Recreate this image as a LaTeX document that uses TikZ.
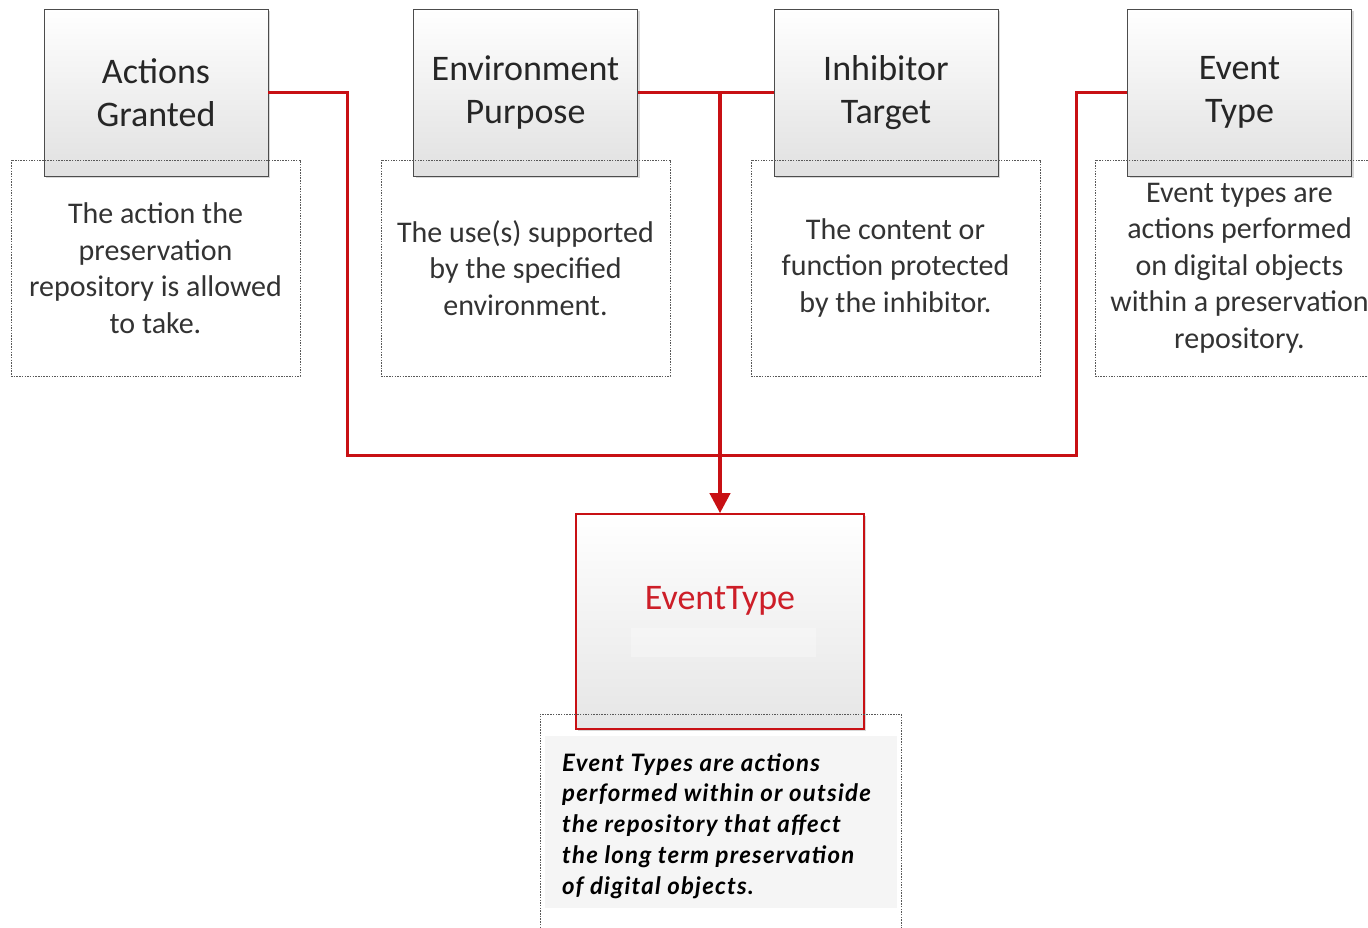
\documentclass[tikz,border=0pt]{standalone}
\usepackage{fontspec}
\setmainfont{Carlito}
\newfontfamily\latofont[LetterSpace=5]{Lato}
\usetikzlibrary{shadows,arrows.meta}
\definecolor{lnred}{RGB}{200,16,20}
\definecolor{txred}{RGB}{205,30,40}
\begin{document}
\begin{tikzpicture}[x=1pt,y=-1pt,
  titlebox/.style={draw=black!70, line width=0.9pt, top color=white, bottom color=black!12,
    minimum width=224pt, minimum height=167pt, inner sep=0pt, align=center,
    font=\fontsize{36}{43}\selectfont, text=black!85,
    drop shadow={shadow xshift=2pt, shadow yshift=-2pt, fill=black!30, opacity=0.5}},
  descbox/.style={draw=black!65, dash pattern=on 1.5pt off 1.2pt, line width=0.8pt,
    minimum width=289pt, minimum height=216pt, inner sep=0pt, align=center,
    font=\fontsize{30}{36.5}\selectfont, text=black!80},
  redline/.style={draw=lnred, line width=3pt},
  mainline/.style={draw=lnred, line width=4pt, -{Triangle[width=20pt,length=20pt]}},
]
\clip (0,0) rectangle (1368,928);
\fill[white] (0,0) rectangle (1368,928);

% title boxes
\node[titlebox] (ag) at (156,92.5) {Actions\\Granted};
\node[titlebox] (ep) at (525.5,92.5) {Environment\\Purpose};
\node[titlebox] (it) at (886,92.5) {Inhibitor\\Target};
\node[titlebox] (evt) at (1239.5,92.5) {Event\\Type};

% description boxes
\node[descbox] (d1) at (155.5,268) {The action the\\preservation\\repository is allowed\\to take.};
\node[descbox] (d2) at (525.5,268) {The use(s) supported\\by the specified\\environment.};
\node[descbox] (d3) at (895.5,268) {The content or\\function protected\\by the inhibitor.};
\node[descbox] (d4) at (1239.5,268) {Event types are\\actions performed\\on digital objects\\within a preservation\\repository.};

% target box
\node[draw=lnred, line width=1.6pt, top color=white, bottom color=black!10,
  minimum width=288pt, minimum height=215pt, inner sep=0pt,
  drop shadow={shadow xshift=2pt, shadow yshift=-2pt, fill=black!30, opacity=0.5}] (ET) at (720,621.5) {};
\fill[white, opacity=0.3] (631,628) rectangle (816,657);
\node[font=\fontsize{36}{40}\selectfont, text=txred] (etl) at (720,601) {EventType};

% bottom description
\fill[black!4] (545,736) rectangle (897,908);
\node[draw=black!65, dash pattern=on 1.5pt off 1.2pt, line width=0.8pt,
  minimum width=361pt, minimum height=240pt, inner sep=0pt] (d5) at (720.5,834) {};
\node[anchor=west, align=left, inner sep=0pt, text=black,
  font=\latofont\bfseries\itshape\fontsize{24}{30.75}\selectfont] (d5t) at (562,826)
  {Event Types are actions\\performed within or outside\\the repository that affect\\the long term preservation\\of digital objects.};

% connectors
\coordinate (j1) at (347,455);
\coordinate (j2) at (1076,455);
\coordinate (jt) at (720,92.5);
\draw[redline] (ag.east) -| (j1) -- (j2) |- (evt.west);
\draw[redline] (ep.east) -- (it.west);
\draw[mainline] (jt) -- (ET.north);
\end{tikzpicture}
\end{document}
